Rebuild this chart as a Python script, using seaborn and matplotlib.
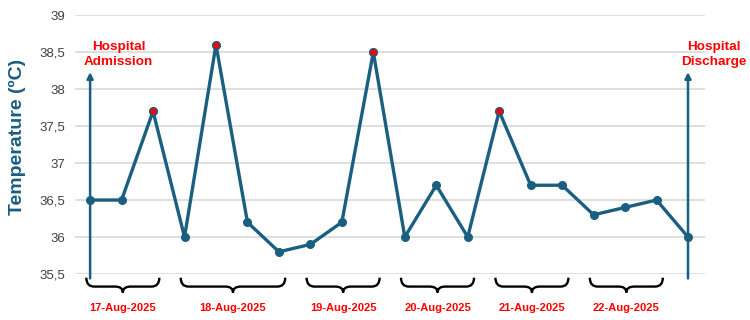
import matplotlib
matplotlib.use("Agg")
import matplotlib.pyplot as plt
from matplotlib.path import Path
from matplotlib.patches import PathPatch
import numpy as np
import pandas as pd
import seaborn as sns

# Temperature readings, in the order they were taken
temps = [36.5, 36.5, 37.7, 36.0, 38.6, 36.2, 35.8, 35.9, 36.2, 38.5,
         36.0, 36.7, 36.0, 37.7, 36.7, 36.7, 36.3, 36.4, 36.5, 36.0]
# readings flagged as fever peaks (drawn red)
fever_idx = [2, 4, 9, 13]
# day groups: label, first reading, last reading
days = ["17-Aug-2025", "18-Aug-2025", "19-Aug-2025",
        "20-Aug-2025", "21-Aug-2025", "22-Aug-2025"]
day_first = [0, 3, 7, 10, 13, 16]
day_last = [2, 6, 9, 12, 15, 18]
y_ticks = [35.5, 36, 36.5, 37, 37.5, 38, 38.5, 39]

LINE = "#1A5E80"
RED = "#FF0000"

df = pd.DataFrame({"reading": np.arange(len(temps)), "temp": temps})
df["fever"] = df["reading"].isin(fever_idx)

sns.set_style("white")
plt.rcParams["font.family"] = ["Liberation Sans", "DejaVu Sans"]

fig = plt.figure(figsize=(7.5, 3.2), dpi=100)
ax = fig.add_axes([0.1, 0.14375, 0.84, 0.809])

sns.lineplot(data=df, x="reading", y="temp", color=LINE, linewidth=2.4,
             marker="o", markersize=6.5, markeredgewidth=0, ax=ax, zorder=3)
sns.scatterplot(data=df[df["fever"]], x="reading", y="temp", color=RED,
                s=28, edgecolor=LINE, linewidth=0.8, ax=ax, zorder=4)

ax.set_xlim(-0.48, 19.54)
ax.set_ylim(35.5, 39)
ax.set_yticks(y_ticks)
ax.set_yticklabels([f"{t:g}".replace(".", ",") for t in y_ticks],
                   fontsize=9.5, color="#404040")
ax.set_xticks([])
ax.tick_params(axis="y", length=0, pad=7)
ax.grid(axis="y", color="#D9D9D9", linewidth=1.2)
ax.set_axisbelow(True)
for s in ax.spines.values():
    s.set_visible(False)
ax.set_xlabel("")
ax.set_ylabel("Temperature (ºC)", fontsize=14, fontweight="bold",
              color=LINE)
ax.yaxis.set_label_coords(-0.078, 0.53)

# admission / discharge arrows
first, last = 0, len(temps) - 1
for xi, txt, tx in [(first, "Hospital\nAdmission", first + 0.9),
                    (last, "Hospital\nDischarge", last + 0.83)]:
    ax.annotate("", xy=(xi, 38.23), xytext=(xi, 35.44),
                arrowprops=dict(arrowstyle="-|>", color=LINE, lw=1.8,
                                mutation_scale=9, shrinkA=0, shrinkB=0),
                annotation_clip=False, zorder=2)
    ax.text(tx, 38.47, txt, ha="center", va="center", color=RED,
            fontsize=9.7, fontweight="bold", linespacing=1.3)

# curly braces under each day
top, bar, tip, r = 35.45, 35.33, 35.25, 0.25
for lab, a, b in zip(days, day_first, day_last):
    x0, x1 = a - 0.12, b + 0.2
    xc = (x0 + x1) / 2
    verts = [(x0, top), (x0, bar), (x0 + r, bar),
             (xc - r, bar),
             (xc, bar), (xc, tip),
             (xc, bar), (xc + r, bar),
             (x1 - r, bar),
             (x1, bar), (x1, top)]
    codes = [Path.MOVETO, Path.CURVE3, Path.CURVE3,
             Path.LINETO,
             Path.CURVE3, Path.CURVE3,
             Path.CURVE3, Path.CURVE3,
             Path.LINETO,
             Path.CURVE3, Path.CURVE3]
    ax.add_patch(PathPatch(Path(verts, codes), facecolor="none",
                           edgecolor="black", lw=1.7, clip_on=False))
    ax.text(xc, 35.04, lab, ha="center", va="center", color=RED,
            fontsize=8, fontweight="bold", clip_on=False)

fig.savefig("out.png", dpi=100)
